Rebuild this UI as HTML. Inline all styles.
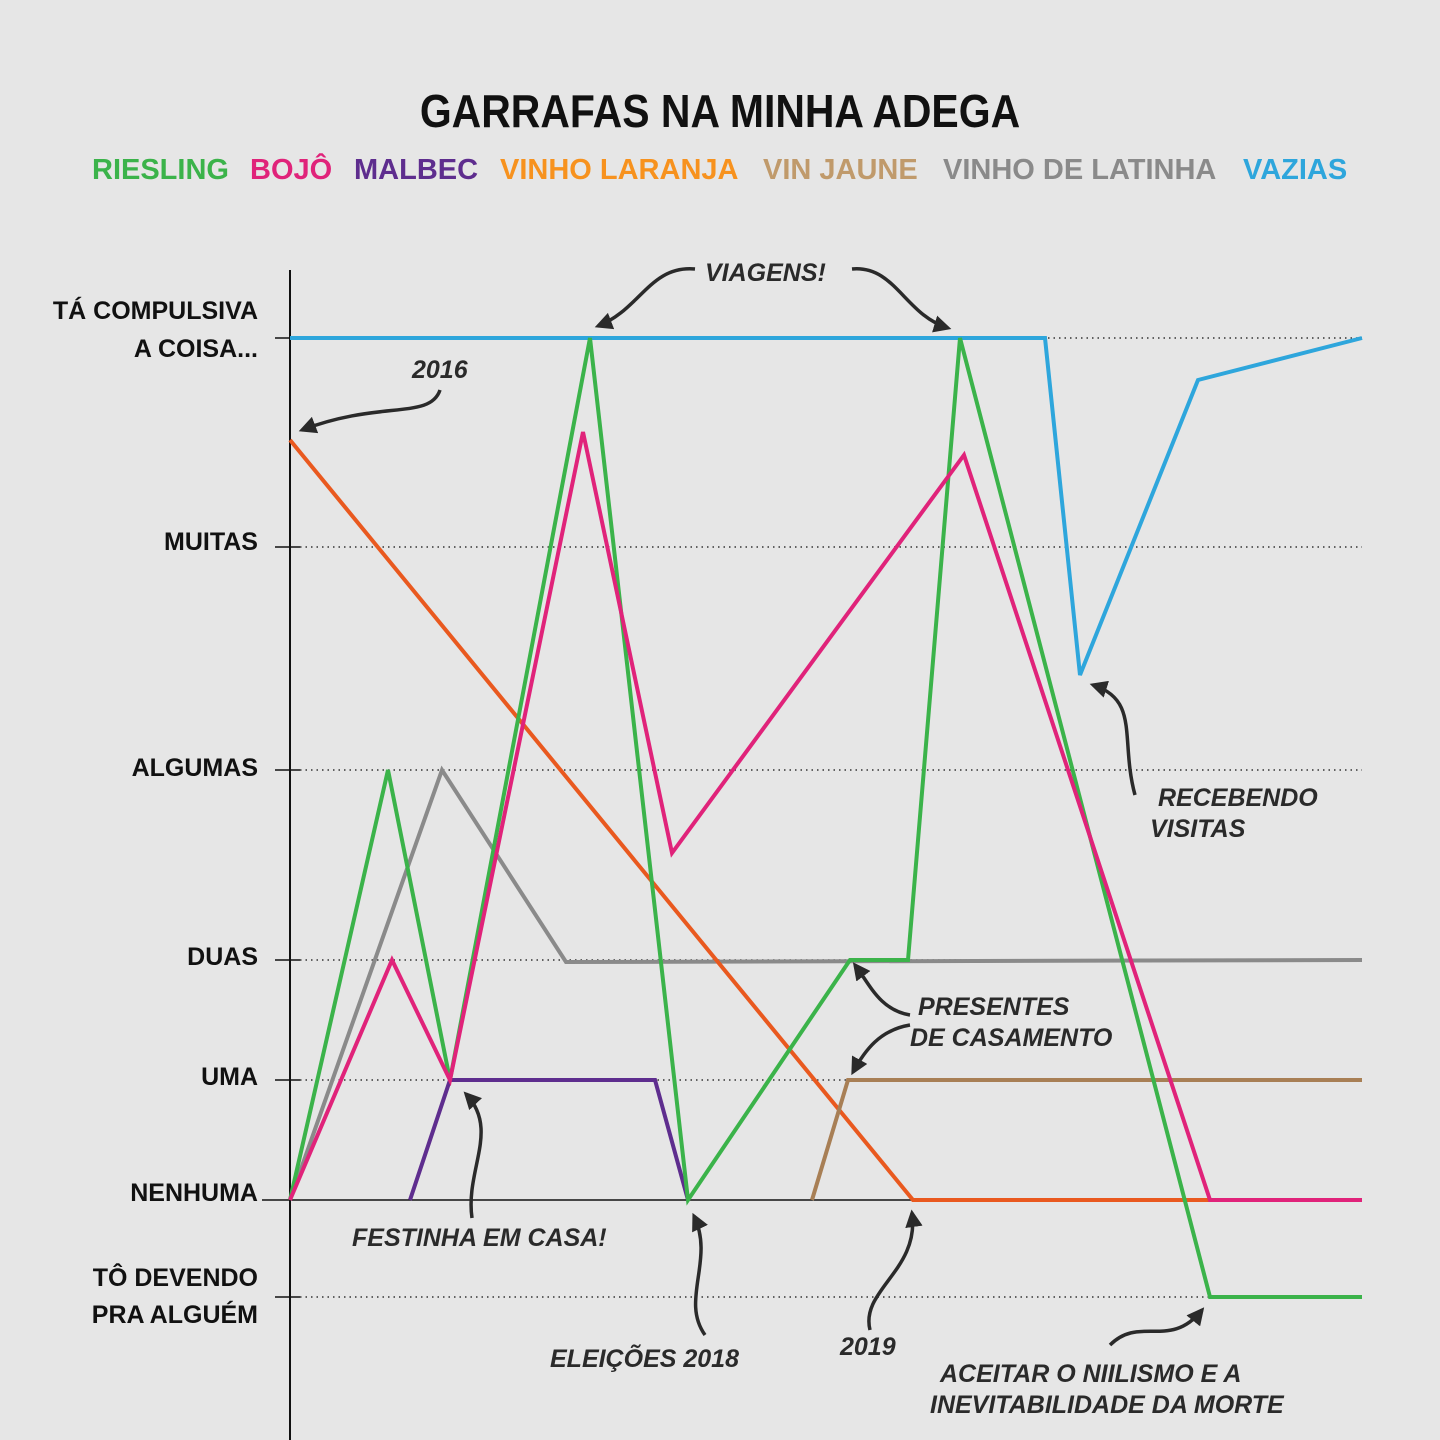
<!DOCTYPE html>
<html><head><meta charset="utf-8"><style>
html,body{margin:0;padding:0;background:#e6e6e6;}
svg{display:block;}
.t{font-family:"Liberation Sans",sans-serif;font-weight:bold;}
.ax{font-family:"Liberation Sans",sans-serif;font-weight:bold;font-size:25px;fill:#111;text-anchor:end;}
.an{font-family:"Liberation Sans",sans-serif;font-style:italic;font-weight:bold;font-size:25px;fill:#2a2a2a;}
</style></head><body>
<svg width="1440" height="1440" viewBox="0 0 1440 1440" xmlns="http://www.w3.org/2000/svg">
<defs><marker id="ar" viewBox="0 0 10 10" refX="8" refY="5" markerWidth="5" markerHeight="5" orient="auto"><path d="M0,0L10,5L0,10z" fill="#2a2a2a"/></marker></defs>
<rect width="1440" height="1440" fill="#e6e6e6"/>
<text x="720" y="127" class="t" font-size="46" text-anchor="middle" fill="#111" transform="translate(720 0) scale(0.89 1) translate(-720 0)">GARRAFAS NA MINHA ADEGA</text>
<g class="t" font-size="29">
<text x="92" y="179" fill="#3bb34a">RIESLING</text>
<text x="250" y="179" fill="#e0237a">BOJÔ</text>
<text x="354" y="179" fill="#5e2d8e">MALBEC</text>
<text x="500" y="179" fill="#f7921e">VINHO LARANJA</text>
<text x="763" y="179" fill="#c09a6b">VIN JAUNE</text>
<text x="943" y="179" fill="#8a8a8a">VINHO DE LATINHA</text>
<text x="1243" y="179" fill="#2ea6dc">VAZIAS</text>
</g>
<line x1="290" y1="270" x2="290" y2="1440" stroke="#111" stroke-width="2"/>
<g stroke="#111" stroke-width="1.5">
<line x1="275" y1="338" x2="300" y2="338"/><line x1="275" y1="547" x2="300" y2="547"/>
<line x1="275" y1="770" x2="300" y2="770"/><line x1="275" y1="960" x2="300" y2="960"/>
<line x1="275" y1="1080" x2="300" y2="1080"/><line x1="275" y1="1297" x2="300" y2="1297"/>
<line x1="262" y1="1200" x2="1362" y2="1200"/>
</g>
<g stroke="#333" stroke-width="1.5" stroke-dasharray="1.5 4">
<line x1="300" y1="338" x2="1362" y2="338"/><line x1="300" y1="547" x2="1362" y2="547"/>
<line x1="300" y1="770" x2="1362" y2="770"/><line x1="300" y1="960" x2="1362" y2="960"/>
<line x1="300" y1="1080" x2="1362" y2="1080"/><line x1="300" y1="1297" x2="1362" y2="1297"/>
</g>
<g class="ax" transform="translate(258 0)"><g transform="scale(1.0 1)">
<text x="0" y="319">TÁ COMPULSIVA</text><text x="0" y="357">A COISA...</text>
<text x="0" y="550">MUITAS</text><text x="0" y="776">ALGUMAS</text>
<text x="0" y="965">DUAS</text><text x="0" y="1085">UMA</text>
<text x="0" y="1201">NENHUMA</text>
<text x="0" y="1286">TÔ DEVENDO</text><text x="0" y="1323">PRA ALGUÉM</text>
</g></g>
<g fill="none" stroke-width="4" stroke-linejoin="miter">
<polyline stroke="#2ea6dc" points="290,338 1045,338 1080,675 1198,380 1362,338"/>
<polyline stroke="#8a8a8a" points="290,1200 442,770 566,962 1362,960"/>
<polyline stroke="#e9591f" points="290,440 913,1200 1362,1200"/>
<polyline stroke="#a87f55" points="812,1200 848,1080 1362,1080"/>
<polyline stroke="#5e2d8e" points="410,1200 450,1080 655,1080 688,1200"/>
<polyline stroke="#3bb34a" points="290,1200 388,770 450,1080 590,338 688,1200 850,960 908,960 960,338 1210,1297 1362,1297"/>
<polyline stroke="#e0237a" points="290,1200 392,960 450,1080 583,432 672,853 964,455 1210,1200 1362,1200"/>
</g>
<g fill="none" stroke="#2a2a2a" stroke-width="3.5" marker-end="url(#ar)">
<path d="M695,269 C650,265 640,310 598,326"/>
<path d="M852,269 C895,265 905,315 948,328"/>
<path d="M440,390 C430,420 380,400 302,430"/>
<path d="M1135,795 C1120,740 1140,700 1093,685"/>
<path d="M910,1015 C880,1010 870,985 855,965"/>
<path d="M910,1025 C880,1030 865,1050 853,1072"/>
<path d="M472,1218 C465,1170 500,1130 466,1094"/>
<path d="M705,1335 C680,1300 715,1260 694,1216"/>
<path d="M870,1330 C860,1290 920,1270 912,1213"/>
<path d="M1110,1345 C1140,1315 1170,1350 1202,1310"/>
</g>
<g class="an">
<text x="705" y="281">VIAGENS!</text>
<text x="412" y="378">2016</text>
<text x="1158" y="806">RECEBENDO</text><text x="1150" y="837">VISITAS</text>
<text x="918" y="1015">PRESENTES</text><text x="910" y="1046">DE CASAMENTO</text>
<text x="352" y="1246">FESTINHA EM CASA!</text>
<text x="550" y="1367">ELEIÇÕES 2018</text>
<text x="840" y="1355">2019</text>
<text x="940" y="1382">ACEITAR O NIILISMO E A</text>
<text x="930" y="1413">INEVITABILIDADE DA MORTE</text>
</g>
</svg>
</body></html>
